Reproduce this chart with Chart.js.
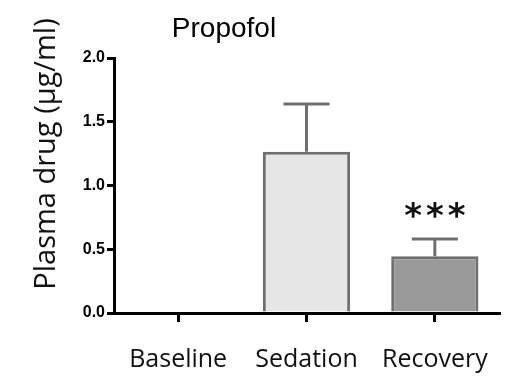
<!DOCTYPE html>
<html>
<head>
<meta charset="utf-8">
<script src="https://cdn.jsdelivr.net/npm/chart.js@4"></script>
<style>
  html, body { margin: 0; padding: 0; background: #fff; }
</style>
</head>
<body>
<canvas id="chart" width="514" height="377"></canvas>
<script>
// Plasma propofol levels per phase
const categories = ["Baseline", "Sedation", "Recovery"];
const meanValues = [0, 1.265, 0.445];
const errorValues = [0, 0.375, 0.135];
const starLabels = ["", "", "***"];
const yTicks = [0, 0.5, 1.0, 1.5, 2.0];
const chartTitle = "Propofol";
const yTitle = "Plasma drug (μg/ml)";

const barFill = ["#e6e6e6", "#e6e6e6", "#999999"];
const greyLine = "#6f6f6f";

// error bars (upper only) and significance stars
const errorBarPlugin = {
  id: "errorBars",
  afterDatasetsDraw(chart) {
    const ctx = chart.ctx;
    const y = chart.scales.y;
    const meta = chart.getDatasetMeta(0);
    ctx.save();
    meta.data.forEach((bar, i) => {
      const top = y.getPixelForValue(meanValues[i] + errorValues[i]);
      if (errorValues[i] > 0) {
        ctx.strokeStyle = greyLine;
        ctx.lineWidth = 3;
        ctx.beginPath();
        ctx.moveTo(bar.x, bar.y);
        ctx.lineTo(bar.x, top);
        ctx.moveTo(bar.x - 23, top);
        ctx.lineTo(bar.x + 23, top);
        ctx.stroke();
      }
      if (starLabels[i]) {
        ctx.fillStyle = "#111";
        ctx.font = "bold 34px 'DejaVu Sans'";
        ctx.letterSpacing = "4px";
        ctx.textAlign = "center";
        ctx.textBaseline = "alphabetic";
        const m = ctx.measureText(starLabels[i]);
        const mid = top - 29;
        const base = mid + (m.actualBoundingBoxAscent - m.actualBoundingBoxDescent) / 2;
        ctx.fillText(starLabels[i], bar.x + 2, base);
      }
    });
    ctx.restore();
  },
};

// chart title and y axis title
const textPlugin = {
  id: "texts",
  afterDraw(chart) {
    const ctx = chart.ctx;
    ctx.save();
    ctx.fillStyle = "#000";
    ctx.font = "28px 'Liberation Sans'";
    ctx.textAlign = "center";
    ctx.textBaseline = "alphabetic";
    ctx.fillText(chartTitle, 224, 37);

    ctx.translate(55, 154);
    ctx.rotate(-Math.PI / 2);
    ctx.font = "29px 'Open Sans'";
    ctx.fillStyle = "#111";
    ctx.fillText(yTitle, 0, 0);
    ctx.restore();
  },
};

new Chart(document.getElementById("chart"), {
  type: "bar",
  data: {
    labels: categories,
    datasets: [
      {
        data: meanValues,
        backgroundColor: barFill,
        borderColor: greyLine,
        borderWidth: 3,
        categoryPercentage: 1,
        barPercentage: 0.68,
      },
    ],
  },
  options: {
    responsive: false,
    animation: false,
    layout: { padding: { top: 58, right: 15, left: 0, bottom: 0 } },
    plugins: {
      legend: { display: false },
      tooltip: { enabled: false },
    },
    scales: {
      x: {
        offset: true,
        afterFit: (scale) => { scale.height = 64; },
        border: { color: "#000", width: 3 },
        grid: {
          offset: false,
          drawOnChartArea: false,
          color: "#000",
          lineWidth: 3,
          tickLength: 9,
        },
        ticks: {
          color: "#111",
          font: { family: "'Open Sans'", size: 25 },
          padding: 23,
          maxRotation: 0,
        },
      },
      y: {
        min: 0,
        max: 2,
        afterFit: (scale) => { scale.width = 114; },
        afterBuildTicks: (scale) => {
          scale.ticks = yTicks.map((v) => ({ value: v }));
        },
        border: { color: "#000", width: 3 },
        grid: {
          drawOnChartArea: false,
          color: "#000",
          lineWidth: 3,
          tickLength: 7,
        },
        ticks: {
          color: "#000",
          font: { family: "'Liberation Sans'", size: 16, weight: "bold" },
          padding: 2,
          callback: (v) => Number(v).toFixed(1),
        },
      },
    },
  },
  plugins: [errorBarPlugin, textPlugin],
});
</script>
</body>
</html>
